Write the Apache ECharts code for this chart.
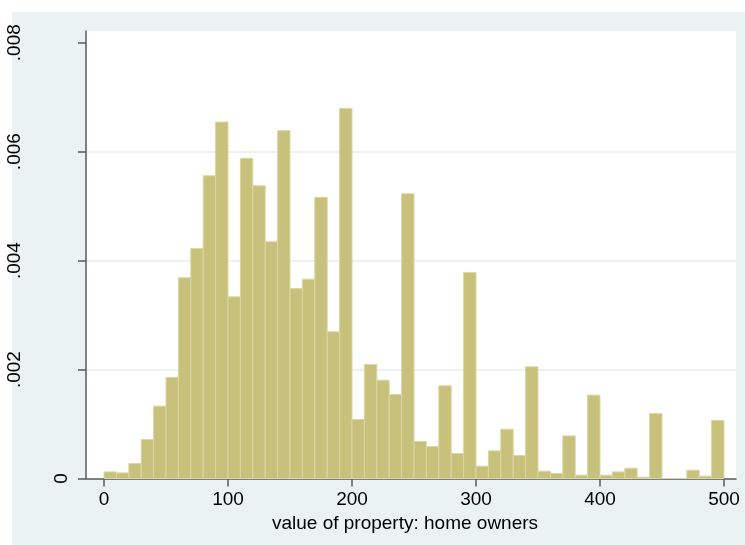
<!DOCTYPE html>
<html>
<head>
<meta charset="utf-8">
<script src="https://cdn.jsdelivr.net/npm/echarts@6/dist/echarts.min.js"></script>
<style>
html,body{margin:0;padding:0;background:#fff;}
#chart{width:745px;height:545px;}
</style>
</head>
<body>
<div id="chart"></div>
<script>
// Histogram: value of property (home owners), bins of width 10 from 0 to 500
const binStart = 0;
const binWidth = 10;
const densities = [
  0.000121, 0.000103, 0.000275, 0.000716, 0.001328, 0.001855, 0.003684, 0.004224, 0.005557, 0.006544,
  0.003335, 0.005877, 0.005374, 0.004345, 0.006384, 0.003489, 0.003660, 0.005161, 0.002693, 0.006795,
  0.001083, 0.002094, 0.001805, 0.001542, 0.005227, 0.000679, 0.000587, 0.001701, 0.000459, 0.003783,
  0.000226, 0.000507, 0.000905, 0.000422, 0.002050, 0.000134, 0.000092, 0.000782, 0.000061, 0.001530,
  0.000061, 0.000121, 0.000189, 0.000024, 0.001194, 0, 0, 0.000152, 0.000042, 0.001065
];
const xTickValues = [0, 100, 200, 300, 400, 500];
const yTickValues = [0, 0.002, 0.004, 0.006, 0.008];
const yTickLabels = ['0', '.002', '.004', '.006', '.008'];
const xTitle = 'value of property: home owners';

const bins = densities.map((d, i) => [binStart + i * binWidth, binStart + (i + 1) * binWidth, d]);

const chart = echarts.init(document.getElementById('chart'), null, {renderer: 'canvas'});
const font = 'Liberation Sans, Arial, Helvetica, sans-serif';
const axisColor = '#5a5a5a';

chart.setOption({
  backgroundColor: '#ffffff',
  animation: false,
  graphic: [{
    type: 'rect', z: -100, silent: true,
    shape: {x: 12, y: 12, width: 733, height: 533},
    style: {fill: '#eaf2f3'}
  }],
  grid: {
    left: 86, right: 9, top: 31, bottom: 66.5,
    show: true, backgroundColor: '#ffffff', borderWidth: 0
  },
  xAxis: {
    type: 'value',
    min: -14.52, max: 509.68,
    axisLine: {show: true, onZero: false, lineStyle: {color: axisColor, width: 1.5}},
    axisTick: {show: true, length: 8, customValues: xTickValues, lineStyle: {color: axisColor, width: 1.5}},
    axisLabel: {customValues: xTickValues, margin: 12, fontFamily: font, fontSize: 19, color: '#000'},
    splitLine: {show: false},
    name: xTitle, nameLocation: 'middle', nameGap: 31,
    nameTextStyle: {fontFamily: font, fontSize: 19, color: '#000', padding: [0, 12, 0, 0]}
  },
  yAxis: {
    type: 'value',
    min: 0, max: 0.008215,
    axisLine: {show: true, onZero: false, lineStyle: {color: axisColor, width: 1.5}},
    axisTick: {show: true, length: 8, customValues: yTickValues, lineStyle: {color: axisColor, width: 1.5}},
    axisLabel: {
      customValues: yTickValues, rotate: 90, margin: 15,
      fontFamily: font, fontSize: 19, color: '#000',
      formatter: function (v) {
        const i = yTickValues.findIndex(t => Math.abs(t - v) < 1e-9);
        const s = i >= 0 ? yTickLabels[i] : '';
        return v === 0 ? '{z|' + s + '}' : '{n|' + s + '}';
      },
      rich: {
        z: {fontFamily: font, fontSize: 19, color: '#000'},
        n: {fontFamily: font, fontSize: 19, color: '#000', padding: [0, 0, 47, 0]}
      }
    },
    splitLine: {show: true, lineStyle: {color: ['rgba(0,0,0,0)', '#e6eef0', '#e6eef0', '#e6eef0', 'rgba(0,0,0,0)'], width: 1.5}}
  },
  series: [{
    type: 'custom',
    data: bins,
    encode: {x: [0, 1], y: 2},
    renderItem: function (params, api) {
      const x0 = api.value(0), x1 = api.value(1), y = api.value(2);
      const p0 = api.coord([x0, y]);
      const p1 = api.coord([x1, 0]);
      return {
        type: 'rect',
        shape: {x: p0[0], y: p0[1], width: p1[0] - p0[0], height: p1[1] - p0[1]},
        style: {fill: '#c8c17c', stroke: '#dcd6a2', lineWidth: 1}
      };
    }
  }]
});
</script>
</body>
</html>
